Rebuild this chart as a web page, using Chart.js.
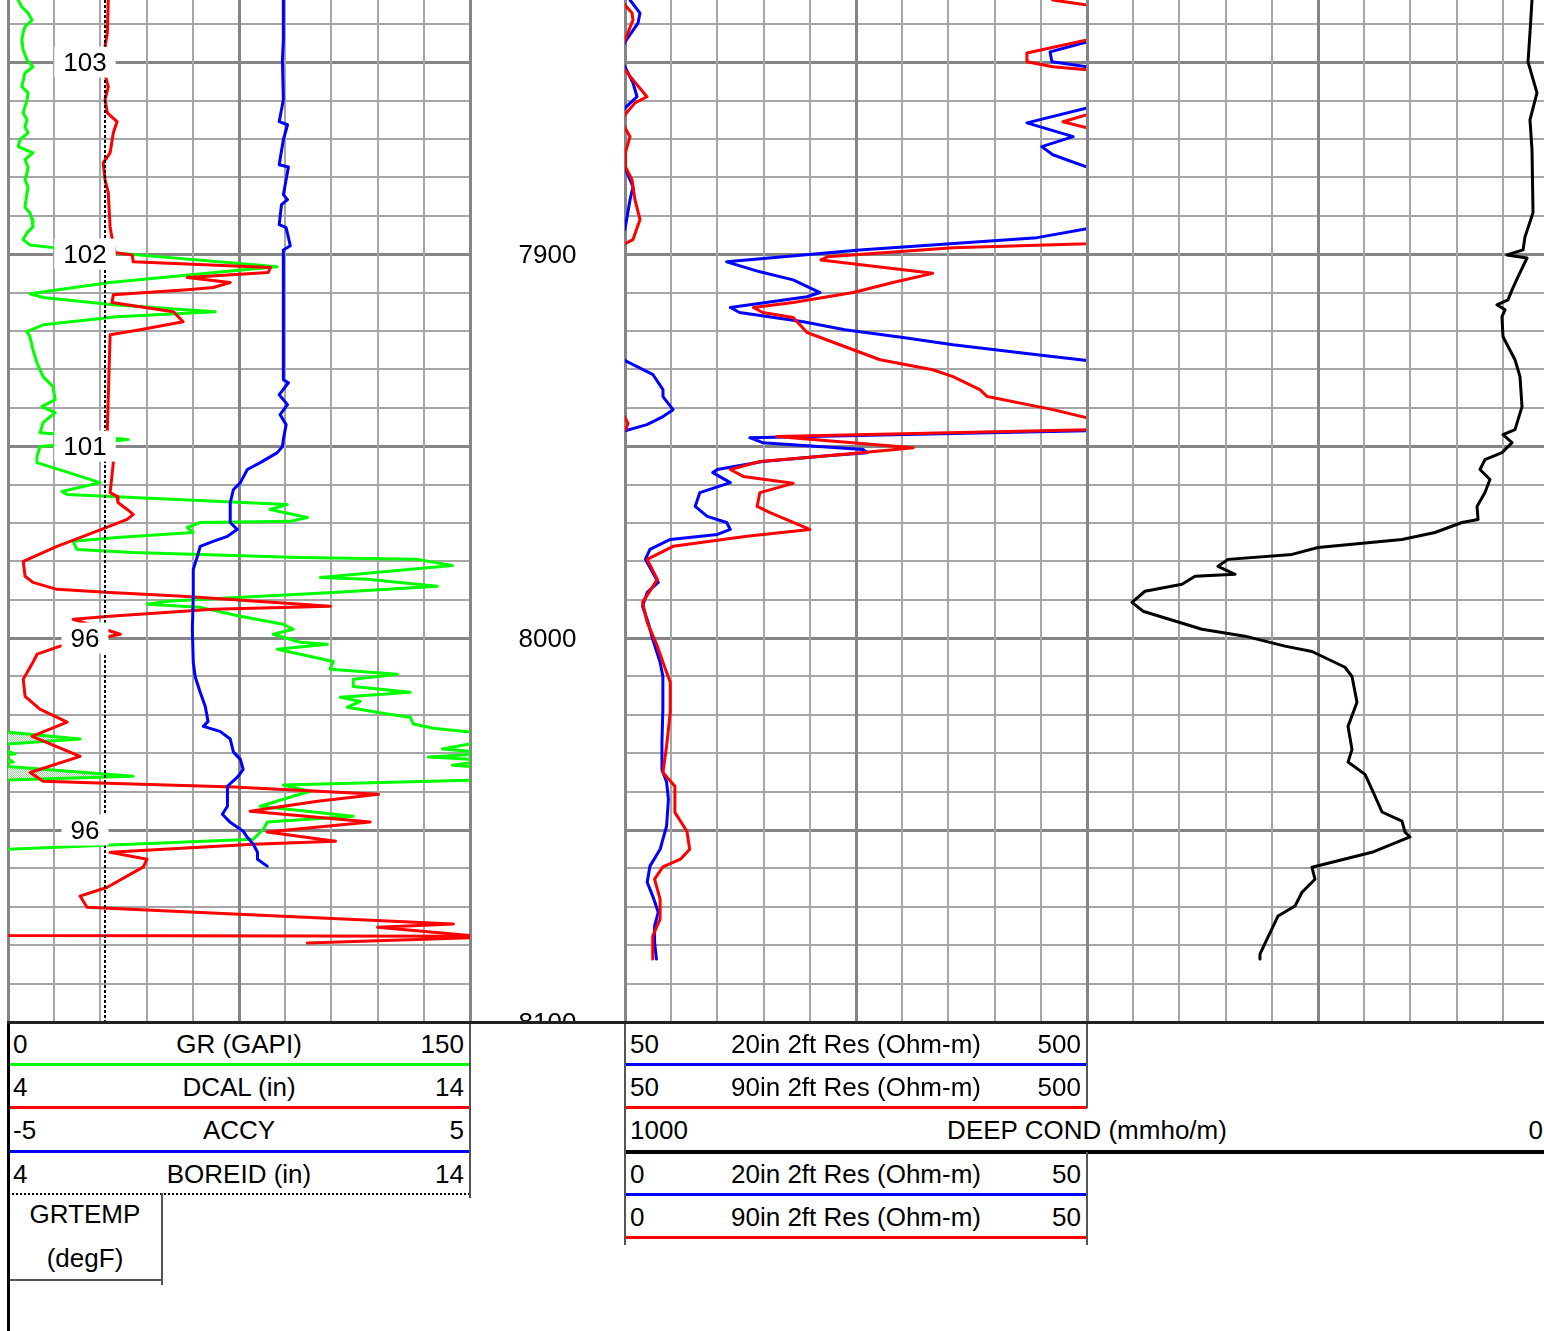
<!DOCTYPE html>
<html lang="en">
<head>
<meta charset="utf-8">
<title>Well log – GR / resistivity / conductivity</title>
<script src="https://cdn.jsdelivr.net/npm/chart.js@4.4.1/dist/chart.umd.min.js"></script>
<style>
  html, body { margin: 0; padding: 0; background: #fff; }
  body { width: 1544px; height: 1331px; overflow: hidden; }
  #log { position: relative; width: 1544px; height: 1331px; overflow: hidden;
         font-family: "Liberation Sans", Arial, sans-serif; }
  #log canvas { position: absolute; top: 0; }
  .hdr { position: absolute; font-size: 26px; line-height: 30px; color: #000; white-space: nowrap; }
  .rule { position: absolute; }
</style>
</head>
<body>
<div id="log">
  <canvas id="track1"></canvas>
  <canvas id="depthTrack"></canvas>
  <canvas id="track2"></canvas>
  <canvas id="track3"></canvas>
</div>
<script>
// ---------------- depth window (ft) ----------------
const depthTop = 7833.8;
const depthBottom = 8100;
const depthGridTicks = [7840, 7850, 7860, 7870, 7880, 7890, 7900, 7910, 7920, 7930, 7940, 7950, 7960,
  7970, 7980, 7990, 8000, 8010, 8020, 8030, 8040, 8050, 8060, 8070, 8080, 8090, 8100];
const depthLabels = [7900, 8000, 8100];

// ---------------- curve scales ----------------
const grRange = [0, 150];
const grBackupRange = [150, 300];
const dcalRange = [4, 14];
const dcalBackupRange = [14, 24];
const accyRange = [-5, 5];
const boreidRange = [4, 14];
const resRange = [0, 50];
const resBackupRange = [50, 500];
const condRange = [1000, 0];          // spans the resistivity track and the track to its right

const grGridTicks = [0, 15, 30, 45, 60, 75, 90, 105, 120, 135, 150];
const resGridTicks = [0, 5, 10, 15, 20, 25, 30, 35, 40, 45, 50];
const condGridTicks = [0, 50, 100, 150, 200, 250, 300, 350, 400, 450, 500];

// ---------------- curves: [depth ft, value] ----------------
const grData = [
  [7833.8,3.3],[7835.6,4.5],[7837.2,6.5],[7839.0,7.8],[7840.8,5.5],[7842.4,4.9],[7844.2,4.5],[7846.8,4.9],
  [7849.4,6.2],[7851.2,8.1],[7852.8,5.5],[7856.4,4.5],[7858.0,6.5],[7859.8,6.2],[7863.2,4.9],[7865.0,6.2],
  [7866.8,5.5],[7868.4,6.5],[7870.2,3.9],[7872.0,3.3],[7873.6,8.1],[7875.4,5.5],[7877.3,6.5],[7878.8,6.2],
  [7880.6,5.5],[7882.5,6.5],[7884.0,6.2],[7887.7,5.5],[7889.2,7.1],[7891.0,7.8],[7892.9,8.1],[7894.4,6.2],
  [7896.2,4.9],[7897.6,7.1],[7898.3,14.6],[7903.3,87.4],[7904.3,73.1],[7907.4,33.1],[7910.3,7.1],[7911.3,11.4],
  [7913.2,34.1],[7915.0,67.3],[7916.3,35.4],[7918.4,11.4],[7920.2,6.2],[7921.5,7.1],[7924.9,8.1],[7928.3,9.4],
  [7931.9,11.4],[7934.5,14.6],[7937.9,15.3],[7939.7,11.0],[7941.3,15.3],[7943.9,11.4],[7946.5,10.4],[7948.3,39.0],
  [7950.1,10.4],[7952.7,9.4],[7954.3,9.4],[7955.6,14.6],[7959.5,29.9],[7961.8,17.5],[7962.6,19.2],[7965.2,90.7],
  [7966.5,85.1],[7968.6,97.2],[7969.6,91.6],[7969.9,62.4],[7971.2,58.2],[7972.5,60.1],[7973.8,35.4],[7974.8,21.1],
  [7976.9,22.4],[7977.7,40.6],[7979.0,94.9],[7979.5,132.9],[7981.1,144.3],[7984.2,101.4],[7984.7,116.7],[7986.5,139.4],
  [7988.1,105.6],[7989.1,81.9],[7990.4,51.7],[7991.2,45.2],[7992.0,62.4],[7994.3,75.4],[7996.4,89.4],[7997.7,92.6],
  [7999.0,86.1],[8001.1,94.9],[8001.6,103.7],[8002.9,87.4],[8004.2,94.9],[8006.1,105.6],[8008.1,104.6],[8009.4,126.4],
  [8010.7,112.1],[8012.6,112.1],[8014.1,130.6],[8015.4,107.9],[8016.5,114.4],[8018.0,110.2],[8019.8,123.2],[8020.6,130.6],
  [8022.4,131.6],[8023.5,138.1],[8024.5,150.2],[8026.3,173.4],[8027.6,149.8],[8028.9,141.0],[8029.5,150.2],[8030.2,152.3],
  [8031.0,136.5],[8031.6,150.2],[8032.3,151.6],[8033.1,144.3],[8036.0,190.6],[8037.0,149.8],[8038.3,89.4],[8039.9,98.1],
  [8041.2,92.6],[8043.8,81.9],[8046.4,112.1],[8047.9,84.2],[8049.8,82.9],[8052.4,79.6],[8055.0,0]
];

const dcalData = [
  [7833.8,6.17],[7842.4,6.15],[7846.0,6.10],[7854.1,6.12],[7856.4,6.17],[7859.8,6.10],[7863.2,6.15],[7865.5,6.36],
  [7868.4,6.28],[7873.6,6.21],[7876.2,6.06],[7880.6,6.10],[7884.0,6.17],[7892.9,6.21],[7895.7,6.25],[7899.6,6.32],
  [7900.2,6.69],[7902.0,6.71],[7903.5,9.68],[7904.8,9.63],[7906.1,7.88],[7907.4,8.81],[7908.7,8.44],[7909.3,7.88],
  [7910.6,6.28],[7912.6,6.25],[7915.0,7.58],[7917.6,7.79],[7919.7,6.86],[7921.0,6.21],[7945.7,6.15],[7954.3,6.28],
  [7962.1,6.21],[7963.1,6.36],[7964.7,6.38],[7966.5,6.58],[7967.8,6.71],[7969.1,6.58],[7973.5,5.63],[7976.1,5.06],
  [7980.0,4.33],[7983.9,4.37],[7985.5,4.54],[7987.3,5.06],[7988.1,6.21],[7989.1,7.79],[7991.7,10.98],[7992.5,8.44],
  [7994.3,6.21],[7995.1,5.41],[7999.0,6.43],[8002.1,5.13],[8004.2,4.63],[8006.3,4.54],[8010.7,4.33],[8015.2,4.37],
  [8018.5,4.69],[8021.9,5.28],[8025.6,4.52],[8030.8,5.56],[8035.0,4.48],[8037.3,4.76],[8037.8,6.15],[8038.8,8.88],
  [8040.7,12.02],[8042.5,10.70],[8045.1,9.24],[8047.9,11.84],[8050.5,9.61],[8052.9,11.09],[8053.7,9.31],[8055.8,6.21],
  [8057.6,7.01],[8059.6,6.93],[8064.9,6.15],[8067.2,5.56],[8070.1,5.71],[8071.9,8.88],[8074.5,13.64],[8075.3,12.0],
  [8077.5,14.0],[8077.7,25.0],[8079.4,20.48]
];

const accyData = [
  [7833.8,0.96],[7844.2,0.96],[7849.4,0.94],[7859.8,0.96],[7865.5,0.87],[7866.3,1.05],[7870.2,0.96],[7876.7,0.87],
  [7877.3,1.07],[7884.5,0.96],[7885.8,1.05],[7887.1,0.92],[7892.3,0.87],[7893.1,1.02],[7897.8,1.11],[7898.9,0.96],
  [7911.9,0.96],[7932.7,0.96],[7933.5,1.07],[7936.6,0.87],[7939.2,1.05],[7941.8,0.89],[7944.4,1.02],[7948.3,0.96],
  [7950.1,0.94],[7951.7,0.83],[7954.3,0.46],[7956.1,0.18],[7959.5,0.03],[7961.3,-0.12],[7964.7,-0.19],[7969.9,-0.19],
  [7971.7,-0.04],[7973.5,-0.25],[7974.8,-0.56],[7976.1,-0.84],[7978.7,-0.90],[7982.1,-0.99],[7989.1,-0.99],[7997.7,-1.01],
  [8006.3,-0.99],[8010.0,-0.95],[8014.1,-0.84],[8017.8,-0.73],[8021.7,-0.67],[8023.0,-0.77],[8024.3,-0.41],[8026.3,-0.19],
  [8029.7,-0.12],[8031.6,0.03],[8034.2,0.09],[8036.0,-0.02],[8038.6,-0.25],[8043.8,-0.25],[8045.9,-0.36],[8048.0,-0.19],
  [8050.3,0.09],[8051.9,0.18],[8053.7,0.31],[8055.8,0.40],[8057.6,0.40],[8059.4,0.61]
];

const boreidData = [[7833.8, 6.1], [8100, 6.1]];

// GRTEMP readings annotated along the BOREID line
const grtempDepths = [7850, 7900, 7950, 8000, 8050];
const grtempValues = [103, 102, 101, 96, 96];

const res20Data = [
  [7833.8,54.9],[7837.2,64.6],[7839.8,62.7],[7844.7,50.0],[7847.3,46.0],[7849.9,46.2],[7851.2,50.0],[7855.4,57.8],
  [7859.0,61.7],[7861.9,50.0],[7865.8,43.5],[7869.4,48.5],[7872.0,45.1],[7874.1,46.3],[7877.3,50.0],[7878.8,52.0],
  [7882.5,57.8],[7885.8,54.9],[7890.3,52.0],[7893.4,50.0],[7895.7,44.6],[7898.9,25.4],[7902.0,11.0],[7904.6,14.6],
  [7906.7,18.2],[7910.0,21.1],[7911.1,19.7],[7913.9,11.4],[7915.2,12.4],[7917.6,19.3],[7919.7,23.8],[7921.7,30.1],
  [7923.6,35.5],[7926.2,44.6],[7927.7,50.0],[7931.4,77.3],[7935.3,87.0],[7937.1,87.0],[7940.5,96.8],[7942.3,87.0],
  [7944.4,71.4],[7946.0,50.0],[7947.8,13.5],[7949.1,14.9],[7950.9,25.8],[7951.7,26.2],[7952.5,21.9],[7954.0,14.9],
  [7956.1,10.0],[7956.9,9.5],[7959.5,11.4],[7962.1,8.1],[7965.7,7.6],[7968.3,8.9],[7969.9,11.0],[7971.7,11.4],
  [7973.0,10.0],[7974.3,4.9],[7976.9,2.7],[7979.5,2.2],[7982.9,3.0],[7985.5,3.6],[7988.1,2.4],[7991.7,1.9],
  [7995.9,2.5],[8000.3,3.0],[8006.3,3.8],[8010.0,4.1],[8018.5,4.1],[8027.1,4.0],[8034.2,4.0],[8037.5,4.5],
  [8042.0,4.7],[8049.0,4.5],[8055.0,3.8],[8059.4,2.7],[8063.6,2.4],[8067.2,3.0],[8071.4,3.6],[8075.0,3.2],
  [8079.2,3.2],[8083.6,3.4]
];

const res90Data = [
  [7833.8,46.3],[7835.1,50.0],[7837.2,56.8],[7839.0,57.8],[7844.2,50.0],[7847.6,43.5],[7849.9,43.5],[7851.2,46.3],
  [7852.0,50.0],[7854.6,57.8],[7859.0,71.4],[7860.6,59.7],[7863.7,50.0],[7865.5,47.4],[7867.1,50.0],[7869.4,54.9],
  [7873.6,50.3],[7877.3,50.5],[7880.6,56.8],[7885.8,59.7],[7891.0,64.6],[7896.2,57.8],[7897.3,50.0],[7898.3,35.5],
  [7900.7,21.9],[7901.5,21.2],[7905.0,33.3],[7907.4,29.0],[7910.0,24.7],[7912.6,18.2],[7913.9,13.9],[7915.2,14.9],
  [7916.5,18.2],[7920.4,19.7],[7924.9,24.7],[7927.5,27.6],[7930.1,33.3],[7931.9,35.5],[7935.3,38.4],[7937.1,39.2],
  [7940.5,46.3],[7942.6,50.0],[7944.1,53.0],[7945.7,50.5],[7947.5,16.4],[7950.4,31.2],[7951.9,24.7],[7954.0,14.6],
  [7956.1,11.4],[7957.9,12.8],[7959.7,18.2],[7962.1,14.6],[7965.7,14.3],[7967.3,15.7],[7971.7,20.0],[7973.5,13.2],
  [7976.1,5.2],[7979.5,2.4],[7984.7,3.5],[7990.7,1.9],[7995.9,2.4],[8002.1,3.5],[8007.6,4.3],[8011.5,4.9],
  [8019.3,4.9],[8028.2,4.5],[8035.0,4.1],[8038.6,5.4],[8045.4,5.4],[8050.3,6.7],[8055.0,7.0],[8057.6,6.0],
  [8059.6,4.1],[8062.8,3.2],[8068.0,3.8],[8073.2,3.8],[8077.6,3.0],[8083.6,3.0]
];

const condData = [
  [7833.8,18.4],[7842.4,20.6],[7849.9,22.7],[7858.0,13.0],[7865.0,20.6],[7872.8,18.4],[7889.2,17.3],[7895.5,26.0],
  [7898.9,28.1],[7900.2,45.5],[7901.0,23.8],[7905.9,33.6],[7909.3,40.0],[7911.9,44.4],[7913.2,56.3],[7914.5,47.6],
  [7916.3,50.9],[7921.5,49.8],[7927.5,36.8],[7931.9,31.4],[7939.7,29.2],[7945.7,36.8],[7947.0,49.8],[7949.1,40.0],
  [7951.7,50.9],[7953.5,69.3],[7956.1,74.7],[7958.7,63.9],[7962.1,69.3],[7965.7,77.9],[7969.1,76.8],[7969.9,94.2],
  [7972.5,123.4],[7974.3,159.1],[7976.4,250.0],[7978.2,278.2],[7979.5,347.4],[7981.3,358.2],[7983.4,339.8],[7983.9,383.1],
  [7986.0,397.2],[7987.8,437.3],[7990.7,451.3],[7993.0,439.4],[7997.7,375.6],[7999.5,329.0],[8002.1,285.7],[8003.5,256.5],
  [8007.6,220.8],[8010.0,213.2],[8016.7,207.8],[8023.0,217.5],[8029.0,213.2],[8032.3,217.5],[8035.5,199.1],[8039.4,191.6],
  [8045.3,180.7],[8047.7,159.1],[8050.5,155.9],[8051.8,150.4],[8055.8,191.6],[8059.7,256.5],[8062.8,253.3],[8066.2,267.3],
  [8069.8,274.9],[8072.4,293.3],[8078.4,305.2],[8082.3,312.8],[8083.6,312.8]
];

// ---------------- styling ----------------
const GREEN = '#00ff00', RED = '#ff0000', BLUE = '#0000ff', BLACK = '#000000';
const GRID_MINOR = '#a6a6a6', GRID_MAJOR = '#858585';
const LABEL_FONT = '26px "Liberation Sans", Arial, sans-serif';
const CAP_HALF = 9.3;                 // half the cap height of the label font
const GRTEMP_COLUMN_GAPI = 25;        // where the GRTEMP readings sit, on the GR scale

const PLOT_BOTTOM = 1022;
const PAD = 4;
const layout = {
  track1: { left: 8, width: 462 },
  depth:  { left: 470, width: 155 },
  track2: { left: 625, width: 462 },
  track3: { left: 1087, width: 462 }
};

// ---------------- helpers ----------------
function setupCanvas(id, t, pad) {
  const c = document.getElementById(id);
  c.width = t.width + 2 * pad;
  c.height = PLOT_BOTTOM + PAD;
  c.style.left = (t.left - pad) + 'px';
  c.style.width = c.width + 'px';
  c.style.height = c.height + 'px';
  return c;
}

function depthAxis(withGrid) {
  return {
    type: 'linear', axis: 'y', position: 'left', reverse: true,
    min: depthTop, max: depthBottom, display: withGrid,
    afterBuildTicks: s => { s.ticks = depthGridTicks.map(v => ({ value: v })); },
    ticks: { display: false },
    border: { display: false },
    grid: {
      drawTicks: false,
      color: c => (c.tick && c.tick.value % 50 === 0) ? GRID_MAJOR : GRID_MINOR,
      lineWidth: c => (c.tick && c.tick.value % 50 === 0) ? 3 : 2
    }
  };
}

function valueAxis(range, gridTicks, majors) {
  const axis = {
    type: 'linear', axis: 'x', position: 'bottom',
    min: Math.min(range[0], range[1]), max: Math.max(range[0], range[1]),
    reverse: range[0] > range[1],
    display: !!gridTicks
  };
  if (gridTicks) {
    Object.assign(axis, {
      afterBuildTicks: s => { s.ticks = gridTicks.map(v => ({ value: v })); },
      ticks: { display: false },
      border: { display: false },
      grid: {
        drawTicks: false,
        color: c => (c.tick && majors.includes(c.tick.value)) ? GRID_MAJOR : GRID_MINOR,
        lineWidth: c => (c.tick && majors.includes(c.tick.value)) ? 3 : 2
      }
    });
  }
  return axis;
}

function curve(rows, axisId, color, extra) {
  return Object.assign({
    data: rows.map(([d, v]) => ({ x: v, y: d })),
    xAxisID: axisId, yAxisID: 'y', indexAxis: 'y',
    borderColor: color, backgroundColor: color,
    borderWidth: 3, fill: false, pointRadius: 0, tension: 0,
    borderJoinStyle: 'round', borderCapStyle: 'round'
  }, extra || {});
}

function options(scales, padX) {
  return {
    responsive: false, maintainAspectRatio: false, animation: false,
    devicePixelRatio: 1, events: [], indexAxis: 'y',
    layout: { padding: { left: padX, right: padX, top: 0, bottom: PAD } },
    plugins: { legend: { display: false }, tooltip: { enabled: false }, title: { display: false } },
    scales
  };
}

// stippled fill for the GR back-up wrap
function stipple() {
  const c = document.createElement('canvas');
  c.width = 2; c.height = 2;
  const g = c.getContext('2d');
  g.fillStyle = '#eef8ee'; g.fillRect(0, 0, 2, 2);
  g.fillStyle = '#9fcf9f'; g.fillRect(0, 0, 1, 1); g.fillRect(1, 1, 1, 1);
  return g.createPattern(c, 'repeat');
}

// GRTEMP values printed in white boxes along the bit-size line
const grtempPlugin = {
  id: 'grtempLabels',
  afterDatasetsDraw(chart) {
    const { ctx } = chart;
    const cx = chart.scales.xGR.getPixelForValue(GRTEMP_COLUMN_GAPI);
    ctx.save();
    ctx.font = LABEL_FONT;
    ctx.textAlign = 'center';
    ctx.textBaseline = 'alphabetic';
    grtempDepths.forEach((d, i) => {
      const cy = chart.scales.y.getPixelForValue(d);
      const txt = String(grtempValues[i]);
      const w = ctx.measureText(txt).width + 18;
      ctx.fillStyle = '#ffffff';
      ctx.fillRect(cx - w / 2, cy - 15.5, w, 31);
      ctx.fillStyle = '#000000';
      ctx.fillText(txt, cx, cy + CAP_HALF);
    });
    ctx.restore();
  }
};

// depth numbers in the depth track
const depthLabelPlugin = {
  id: 'depthLabels',
  afterDraw(chart) {
    const { ctx, chartArea: a } = chart;
    ctx.save();
    ctx.beginPath();
    ctx.rect(a.left, a.top, a.right - a.left, a.bottom - a.top);
    ctx.clip();
    ctx.font = LABEL_FONT;
    ctx.fillStyle = '#000000';
    ctx.textAlign = 'center';
    ctx.textBaseline = 'alphabetic';
    const cx = (a.left + a.right) / 2;
    depthLabels.forEach(d => ctx.fillText(String(d), cx, chart.scales.y.getPixelForValue(d) + CAP_HALF));
    ctx.restore();
  }
};

// ---------------- track 1: GR / DCAL / ACCY / BOREID ----------------
new Chart(setupCanvas('track1', layout.track1, PAD), {
  type: 'line',
  data: { datasets: [
    curve(boreidData, 'xBORE', BLACK, { borderWidth: 2, borderDash: [3, 2], borderCapStyle: 'butt' }),
    curve(accyData, 'xACCY', BLUE),
    curve(dcalData, 'xDCAL', RED),
    curve(dcalData, 'xDCALB', RED),
    curve(grData, 'xGR', GREEN),
    curve(grData, 'xGRB', GREEN, { fill: { value: grBackupRange[0] }, backgroundColor: stipple() })
  ] },
  options: options({
    y: depthAxis(true),
    xGR: valueAxis(grRange, grGridTicks, [0, 75, 150]),
    xGRB: valueAxis(grBackupRange),
    xDCAL: valueAxis(dcalRange),
    xDCALB: valueAxis(dcalBackupRange),
    xACCY: valueAxis(accyRange),
    xBORE: valueAxis(boreidRange)
  }, PAD),
  plugins: [grtempPlugin]
});

// ---------------- depth track ----------------
new Chart(setupCanvas('depthTrack', layout.depth, 0), {
  type: 'line',
  data: { datasets: [] },
  options: options({ y: depthAxis(false) }, 0),
  plugins: [depthLabelPlugin]
});

// ---------------- track 2: 20in / 90in resistivity with back-up wrap ----------------
new Chart(setupCanvas('track2', layout.track2, PAD), {
  type: 'line',
  data: { datasets: [
    curve(res90Data, 'xRES', RED),
    curve(res90Data, 'xRESB', RED),
    curve(res20Data, 'xRES', BLUE),
    curve(res20Data, 'xRESB', BLUE)
  ] },
  options: options({
    y: depthAxis(true),
    xRES: valueAxis(resRange, resGridTicks, [0, 25, 50]),
    xRESB: valueAxis(resBackupRange)
  }, PAD)
});

// ---------------- track 3: deep conductivity (right half of its 1000–0 span) ----------------
const condTrack3Range = [condRange[0] / 2, condRange[1]];
new Chart(setupCanvas('track3', layout.track3, PAD), {
  type: 'line',
  data: { datasets: [ curve(condData, 'xCOND', BLACK) ] },
  options: options({
    y: depthAxis(true),
    xCOND: valueAxis(condTrack3Range, condGridTicks, [0, 250, 500])
  }, PAD)
});

// ---------------- curve headers ----------------
const logEl = document.getElementById('log');
const ROW0 = 1043.5, ROW_PITCH = 43.3;

function addText(str, x, cy, align) {
  const el = document.createElement('div');
  el.className = 'hdr';
  el.textContent = str;
  el.style.left = x + 'px';
  el.style.top = (cy - 14.7) + 'px';
  if (align === 'right') el.style.transform = 'translateX(-100%)';
  if (align === 'center') el.style.transform = 'translateX(-50%)';
  logEl.appendChild(el);
}
function addRule(x, y, w, h, color, dotted) {
  const el = document.createElement('div');
  el.className = 'rule';
  el.style.left = x + 'px';
  el.style.top = y + 'px';
  el.style.width = w + 'px';
  if (dotted) {
    el.style.height = '0px';
    el.style.borderTop = '2px dotted ' + color;
  } else {
    el.style.height = h + 'px';
    el.style.background = color;
  }
  logEl.appendChild(el);
}

const track1Rows = [
  { name: 'GR (GAPI)', range: grRange, color: GREEN },
  { name: 'DCAL (in)', range: dcalRange, color: RED },
  { name: 'ACCY', range: accyRange, color: BLUE },
  { name: 'BOREID (in)', range: boreidRange, color: BLACK, dotted: true }
];
const track2Rows = [
  { name: '20in 2ft Res (Ohm-m)', range: resBackupRange, color: BLUE },
  { name: '90in 2ft Res (Ohm-m)', range: resBackupRange, color: RED },
  { name: 'DEEP COND (mmho/m)', range: condRange, color: BLACK, wide: true },
  { name: '20in 2ft Res (Ohm-m)', range: resRange, color: BLUE },
  { name: '90in 2ft Res (Ohm-m)', range: resRange, color: RED }
];

function headerRows(rows, x0, x1, wideRight) {
  rows.forEach((r, i) => {
    const cy = ROW0 + i * ROW_PITCH;
    const right = r.wide ? wideRight : x1;
    addText(String(r.range[0]), x0 + 5, cy, 'left');
    addText(r.name, (x0 + right) / 2, cy, 'center');
    addText(String(r.range[1]), right - 6, cy, 'right');
    addRule(x0, cy + 19.5, right - x0, r.wide ? 4 : 3, r.color, r.dotted);
  });
}

const t1L = layout.track1.left, t1R = t1L + layout.track1.width;
const t2L = layout.track2.left, t2R = t2L + layout.track2.width;
const t3R = layout.track3.left + layout.track3.width;

headerRows(track1Rows, t1L, t1R);
headerRows(track2Rows, t2L, t2R, t3R);

// GRTEMP header box
addText('GRTEMP', 85, 1214, 'center');
addText('(degF)', 85, 1258, 'center');
addRule(161, 1193, 2, 92, '#555');
addRule(t1L, 1279, 155, 2, '#555');

// track borders under the plot
addRule(t1L - 1, PLOT_BOTTOM, 3, 1331 - PLOT_BOTTOM, '#000');
addRule(t1R - 1, PLOT_BOTTOM, 2, 176, '#555');
addRule(t2L - 1, PLOT_BOTTOM, 2, 223, '#555');
addRule(t2R - 1, PLOT_BOTTOM, 2, 86, '#555');
addRule(t2R - 1, 1152, 2, 93, '#555');
addRule(t1L - 1, PLOT_BOTTOM - 1, t3R - t1L + 1, 3, '#222');
</script>
</body>
</html>
